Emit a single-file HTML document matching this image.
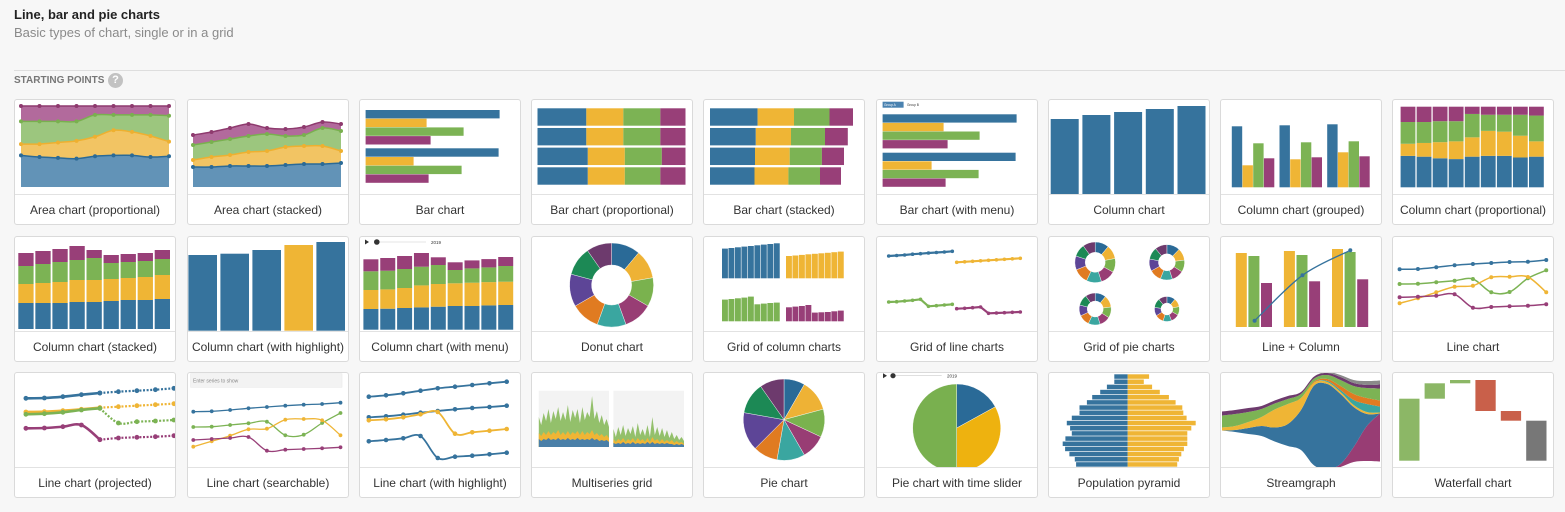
<!DOCTYPE html>
<html><head><meta charset="utf-8">
<style>
body{margin:0;width:1565px;height:512px;background:#f7f7f7;font-family:"Liberation Sans",sans-serif;position:relative;overflow:hidden}
.t{position:absolute;left:14px;top:7px;font-size:13px;font-weight:bold;color:#222}
.st{position:absolute;left:14px;top:25px;font-size:13px;color:#8a8a8a}
.hr{position:absolute;left:14px;right:0;top:70px;border-top:1px solid #dedede}
.sp{position:absolute;left:14px;top:75px;font-size:10px;font-weight:bold;color:#777}
.help{position:absolute;left:108px;top:73px;width:15px;height:15px;border-radius:50%;background:#c2c2c2;color:#fff;font-size:11px;font-weight:bold;text-align:center;line-height:15px}
.card{position:absolute;width:162px;height:126px;box-sizing:border-box;border:1px solid #dadada;border-radius:3px;background:#fff;overflow:hidden}
.card svg{position:absolute;left:-1px;top:-1px;width:162px;height:95px}
.lbl{position:absolute;left:0;right:0;top:94px;height:31px;border-top:1px solid #e2e2e2;text-align:center;line-height:30px;font-size:12px;color:#333;white-space:nowrap}
</style></head><body>
<div class="t">Line, bar and pie charts</div>
<div class="st">Basic types of chart, single or in a grid</div>
<div class="hr"></div>
<div class="sp">STARTING POINTS</div>
<div class="help">?</div>

<div class="card" style="left:14px;top:99px"><svg id="c1" viewBox="0 0 162 95"></svg><div class="lbl">Area chart (proportional)</div></div>
<div class="card" style="left:187px;top:99px"><svg id="c2" viewBox="0 0 162 95"></svg><div class="lbl">Area chart (stacked)</div></div>
<div class="card" style="left:359px;top:99px"><svg id="c3" viewBox="0 0 162 95"></svg><div class="lbl">Bar chart</div></div>
<div class="card" style="left:531px;top:99px"><svg id="c4" viewBox="0 0 162 95"></svg><div class="lbl">Bar chart (proportional)</div></div>
<div class="card" style="left:703px;top:99px"><svg id="c5" viewBox="0 0 162 95"></svg><div class="lbl">Bar chart (stacked)</div></div>
<div class="card" style="left:876px;top:99px"><svg id="c6" viewBox="0 0 162 95"></svg><div class="lbl">Bar chart (with menu)</div></div>
<div class="card" style="left:1048px;top:99px"><svg id="c7" viewBox="0 0 162 95"></svg><div class="lbl">Column chart</div></div>
<div class="card" style="left:1220px;top:99px"><svg id="c8" viewBox="0 0 162 95"></svg><div class="lbl">Column chart (grouped)</div></div>
<div class="card" style="left:1392px;top:99px"><svg id="c9" viewBox="0 0 162 95"></svg><div class="lbl">Column chart (proportional)</div></div>

<div class="card" style="left:14px;top:236px"><svg id="c10" viewBox="0 0 162 95"></svg><div class="lbl">Column chart (stacked)</div></div>
<div class="card" style="left:187px;top:236px"><svg id="c11" viewBox="0 0 162 95"></svg><div class="lbl">Column chart (with highlight)</div></div>
<div class="card" style="left:359px;top:236px"><svg id="c12" viewBox="0 0 162 95"></svg><div class="lbl">Column chart (with menu)</div></div>
<div class="card" style="left:531px;top:236px"><svg id="c13" viewBox="0 0 162 95"></svg><div class="lbl">Donut chart</div></div>
<div class="card" style="left:703px;top:236px"><svg id="c14" viewBox="0 0 162 95"></svg><div class="lbl">Grid of column charts</div></div>
<div class="card" style="left:876px;top:236px"><svg id="c15" viewBox="0 0 162 95"></svg><div class="lbl">Grid of line charts</div></div>
<div class="card" style="left:1048px;top:236px"><svg id="c16" viewBox="0 0 162 95"></svg><div class="lbl">Grid of pie charts</div></div>
<div class="card" style="left:1220px;top:236px"><svg id="c17" viewBox="0 0 162 95"></svg><div class="lbl">Line + Column</div></div>
<div class="card" style="left:1392px;top:236px"><svg id="c18" viewBox="0 0 162 95"></svg><div class="lbl">Line chart</div></div>

<div class="card" style="left:14px;top:372px"><svg id="c19" viewBox="0 0 162 95"></svg><div class="lbl">Line chart (projected)</div></div>
<div class="card" style="left:187px;top:372px"><svg id="c20" viewBox="0 0 162 95"><rect x="3.6" y="1.7" width="151.4" height="13.6" fill="#f3f3f3" stroke="#e6e6e6" stroke-width="0.5"/><text x="6" y="10.5" font-size="5" fill="#888" font-family="Liberation Sans, sans-serif">Enter series to show</text></svg><div class="lbl">Line chart (searchable)</div></div>
<div class="card" style="left:359px;top:372px"><svg id="c21" viewBox="0 0 162 95"></svg><div class="lbl">Line chart (with highlight)</div></div>
<div class="card" style="left:531px;top:372px"><svg id="c22" viewBox="0 0 162 95"></svg><div class="lbl">Multiseries grid</div></div>
<div class="card" style="left:703px;top:372px"><svg id="c23" viewBox="0 0 162 95"></svg><div class="lbl">Pie chart</div></div>
<div class="card" style="left:876px;top:372px"><svg id="c24" viewBox="0 0 162 95"></svg><div class="lbl">Pie chart with time slider</div></div>
<div class="card" style="left:1048px;top:372px"><svg id="c25" viewBox="0 0 162 95"></svg><div class="lbl">Population pyramid</div></div>
<div class="card" style="left:1220px;top:372px"><svg id="c26" viewBox="0 0 162 95"></svg><div class="lbl">Streamgraph</div></div>
<div class="card" style="left:1392px;top:372px"><svg id="c27" viewBox="0 0 162 95"></svg><div class="lbl">Waterfall chart</div></div>

<script>
const PAL=['#2a6a97','#eeb235','#7ab24e','#983d74','#3aa6a0','#e07b21','#5d4597','#1c8955','#6d3a6d'];
const C4=['#36739d','#efb535','#7cb354','#983f78'];
const AFILL=['#6293b7','#f2c463','#9cc67e','#b26a9c'];
const ALINE=['#2b6a96','#eeb030','#79b04f','#8e3a6e'];

const areaPropSeries=[[39,37,36,35,38,39,39,37,38],[14,16,19,22,24,31,29,26,18],[28,28,26,24,27,19,21,26,32],[19,19,19,19,11,11,11,11,12]];
const areaStackSeries=[[20,20,21,21,21,22,23,23,24],[7,10,11,14,15,18,18,18,12],[15,15,16,16,17,11,11,18,20],[10,10,11,12,6,7,8,6,7]];
const barGroups=[[134,61,98,65],[133,48,96,63]];
const barPropRows=[[33,25,25,17],[33,25,25,17],[34,25,25,16],[34,25,24,17]];
const barStackRows=[[47.6,36.4,35.5,23.5],[45.8,35.2,34,22.8],[45,34.7,32.2,22.1],[44.5,33.9,31.6,21]];
const barMenuGroups=[[134,61,97,65],[133,49,96,63]];
const colValues=[75,79,82,85,88];
const groupedValues=[[61,22,44,29],[62,28,45,30],[63,35,46,31]];
const colPropSeries=[[39,38,36,35,38,39,39,37,38],[15,17,20,22,24,31,30,27,19],[27,26,26,25,29,20,21,26,32],[19,19,18,18,9,10,10,10,11]];
const colStackSeries=[[26,26,26,27,27,28,29,29,30],[19,20,21,22,22,22,22,23,24],[18,19,20,20,22,16,16,16,16],[13,13,13,14,8,8,8,8,9]];
const highlightValues=[75.7,77,80.7,85.7,88.7];
const highlightIndex=3;
const colMenuSeries=[[20.7,21,21.7,22.3,23,23.7,23.7,24.3,24.7],[19,19.3,20,22,22.7,22.7,23.3,23.3,23.3],[18.7,18.7,19,18.7,19,13.3,14.3,14.7,15.7],[12,12.7,13,13.7,7.7,7.7,8,8.3,9]];
const donutValues=[40,40,40,40,40,40,45,40,35];
const gridColBlue=[29.7,30.3,31,31.7,32.3,33,33.7,34.3,35];
const gridColYellow=[22.3,22.8,23.4,24,24.5,25,25.5,26.1,26.7];
const gridColGreen=[21.7,22.3,23,23.7,24.7,17,17.7,18.3,18.7];
const gridColPurple=[14,14.7,15.3,16.3,8.7,9,9.3,10,10.7];
const gridLineBlue=[14,14.5,15,15.8,16.3,17,17.5,18,18.7];
const gridLineYellow=[7.7,8.2,8.7,9.2,9.7,10.2,10.7,11.2,11.7];
const gridLineGreen=[14,14.3,15,15.7,16.7,9.7,10.3,11,11.7];
const gridLinePurple=[7.3,7.7,8.3,9,2.7,3,3.3,3.7,4];
const gridPieValues=[[11,11,11,12,12,12,11,10,10],[12,11,11,11,11,11,11,11,11],[11,12,11,11,12,11,11,11,10],[11,11,11,11,11,11,11,12,11]];
const lcYellow=[74,76,78];
const lcGreen=[71,72,75];
const lcPurple=[44,45.7,47.7];
const lcLine=[6.3,51.7,76.7];
const lineBlue=[46.7,47,48.7,50.7,52,53,54,54.3,56];
const lineGreen=[32,32.3,33.7,35.3,37,23.7,24,37.7,45.7];
const lineOrange=[12.7,17.7,23.7,29.3,30.3,38.7,39.3,39,23.7];
const linePurple=[18.7,19.3,20.3,21.7,8.3,9,9.7,10.3,11.7];
const projBlue=[61.7,62,63.3,65.3,67,68.3,69.3,70.3,71.7];
const projYellow=[48,48.3,49.3,50.7,52.3,53.3,54.3,55.3,56.3];
const projGreen=[45.7,46.3,47.7,50,51.7,37,38.3,39,40];
const projPurple=[31.7,32,33.3,35,20.3,22,22.7,23.3,24.3];
const projSplit=4;
const searchBlue=[48.3,48.7,50,51.7,53,54.3,55.3,56,57.3];
const searchGreen=[33,33.3,35,36.7,38.3,24.7,25.3,37,47];
const searchOrange=[13.3,18.7,24.3,30.7,31.3,40.3,41,39.7,24.7];
const searchPurple=[20,21,22,23,9.3,10.3,11,11.7,12.7];
const hlBlue1=[63.3,64.7,66.7,69.3,71.7,73.3,75,76.7,78.3];
const hlBlue2=[42.7,43.7,45.3,47.3,49,50.7,52,53,54.3];
const hlYellow=[39.7,40.7,42.7,45.7,48,26.3,27.7,29.3,31];
const hlBlue3=[18.7,20,21.7,24,2,3.3,4.3,5.7,7.3];
const msGreen1=[30,22,34,26,38,24,36,28,40,26,35,27,42,25,37,29,38,24,40,27,35,30,51,28,36,24,32,22,28,20];
const msYellow1=[14,11,15,12,16,12,15,13,17,12,15,12,16,12,15,13,16,12,16,12,15,13,17,12,14,11,13,10,12,9];
const msBlue1=[8,6,8,7,9,7,8,7,9,7,8,7,9,7,8,7,9,7,8,7,8,7,9,7,8,6,7,6,7,5];
const msGreen2=[18,10,20,12,22,11,19,13,21,10,24,12,18,11,22,10,30,12,20,11,19,10,17,9,15,8,12,7,10,6];
const msYellow2=[8,5,8,6,9,5,8,6,9,5,9,6,8,5,9,5,10,6,8,5,8,5,7,5,7,4,6,4,5,3];
const msBlue2=[4,3,4,3,5,3,4,3,5,3,4,3,4,3,5,3,5,3,4,3,4,3,4,3,3,2,3,2,3,2];
const pieValues=[30,45,40,35,40,35,55,45,35];
const sliderPieValues=[17,33,50];
const pyrLeft=[13.4,13.4,20.8,27.5,35.5,40.8,48.2,48.2,55.9,60.9,57.6,55.9,62.3,65,62.6,58.3,52.9,51.6];
const pyrRight=[21.4,16.1,24.4,32.1,41.2,47.9,54.6,55.6,58.9,68,63.6,59.6,59.6,59.6,56.2,53.6,51.2,49.5];
const streamMagenta=[0,0,0,0,0,0,0,0,1,3,15,35,48];
const streamBlue=[0,2,6,10,14,22,40,80,85,70,40,12,0];
const streamYellow=[3,4,6,9,18,20,12,3,2,2,2,2,1];
const streamTeal=[0,0,0,0,0,0,0,0,1,2,5,8,6];
const streamOrange=[0,0,0,0,0,0,0,1,2,4,6,6,6];
const streamGreen=[12,12,10,8,6,5,4,3,4,6,8,10,12];
const streamPurple=[4,4,4,3,3,3,2,2,2,3,3,3,4];
const streamGray=[0,0,0,0,0,0,0,0,1,2,3,4,4];
const wfSteps=[62,15.4,3.3,-31,-9.7];

const NS='http://www.w3.org/2000/svg';
function S(id){return document.getElementById(id);}
function mk(p,tag,a,name){
  const el=document.createElementNS(NS,tag);
  for(const k in a) el.setAttribute(k,a[k]);
  
  
  p.appendChild(el);return el;
}
function rect(p,x,y,w,h,fill,name){return mk(p,'rect',{x:x,y:y,width:Math.max(0,w),height:Math.max(0,h),fill:fill},name);}
function f(n){return n.toFixed(2);}
function straight(pts){return 'M'+pts.map(q=>f(q[0])+','+f(q[1])).join('L');}
function smooth(pts){
  let d='M'+f(pts[0][0])+','+f(pts[0][1]);
  for(let i=0;i<pts.length-1;i++){
    const p0=pts[i-1]||pts[i],p1=pts[i],p2=pts[i+1],p3=pts[i+2]||p2;
    const c1=[p1[0]+(p2[0]-p0[0])/6,p1[1]+(p2[1]-p0[1])/6];
    const c2=[p2[0]-(p3[0]-p1[0])/6,p2[1]-(p3[1]-p1[1])/6];
    d+='C'+f(c1[0])+','+f(c1[1])+' '+f(c2[0])+','+f(c2[1])+' '+f(p2[0])+','+f(p2[1]);
  }
  return d;
}
function arcPath(cx,cy,r0,r1,a0,a1){
  const pt=(r,a)=>[cx+r*Math.sin(a),cy-r*Math.cos(a)];
  const large=(a1-a0)>Math.PI?1:0;
  const A=pt(r1,a0),B=pt(r1,a1);
  let d='M'+f(A[0])+','+f(A[1])+'A'+r1+','+r1+' 0 '+large+' 1 '+f(B[0])+','+f(B[1]);
  if(r0>0){const C=pt(r0,a1),D=pt(r0,a0);d+='L'+f(C[0])+','+f(C[1])+'A'+r0+','+r0+' 0 '+large+' 0 '+f(D[0])+','+f(D[1]);}
  else d+='L'+cx+','+cy;
  return d+'Z';
}
function pie(p,cx,cy,r0,r1,vals,cols,name){
  const tot=vals.reduce((a,b)=>a+b,0);let a=0;
  vals.forEach((v,i)=>{const a1=a+v/tot*2*Math.PI;
    mk(p,'path',{d:arcPath(cx,cy,r0,r1,a,a1),fill:cols[i%cols.length],stroke:'#fff','stroke-width':0.4},name);a=a1;});
}
function series(p,vals,xf,yf,color,w,r,useSmooth,name,dash){
  const pts=vals.map((v,i)=>[xf(i),yf(v)]);
  const a={d:useSmooth?smooth(pts):straight(pts),fill:'none',stroke:color,'stroke-width':w,'stroke-linejoin':'round'};
  if(dash)a['stroke-dasharray']=dash;
  mk(p,'path',a,name+'-line');
  if(r>0)pts.forEach(q=>mk(p,'circle',{cx:q[0],cy:q[1],r:r,fill:color},name+'-point'));
}
function stackCum(ser){const n=ser[0].length;const out=[];let base=new Array(n).fill(0);
  ser.forEach(s=>{const top=base.map((b,i)=>b+s[i]);out.push([base,top]);base=top;});return out;}

(function(){const s=S('c1');const n=9;const xf=i=>7+i*148/(n-1);
 const tot=areaPropSeries[0].map((_,i)=>areaPropSeries.reduce((a,r)=>a+r[i],0));
 const yf=v=>88-v*81;
 const norm=areaPropSeries.map(r=>r.map((v,i)=>v/tot[i]));
 const st=stackCum(norm);
 st.forEach((l,k)=>{const up=l[1].map((v,i)=>[xf(i),yf(v)]);const lo=l[0].map((v,i)=>[xf(i),yf(v)]).reverse();
   mk(s,'path',{d:smooth(up)+'L'+straight(lo).slice(1)+'Z',fill:AFILL[k]},'area-layer');});
 st.forEach((l,k)=>series(s,l[1],xf,yf,ALINE[k],1.5,2,true,'area-series'));
})();
(function(){const s=S('c2');const xf=i=>6+i*148/8;const yf=v=>88-v;
 const st=stackCum(areaStackSeries);
 st.forEach((l,k)=>{const up=l[1].map((v,i)=>[xf(i),yf(v)]);const lo=l[0].map((v,i)=>[xf(i),yf(v)]).reverse();
   mk(s,'path',{d:smooth(up)+'L'+straight(lo).slice(1)+'Z',fill:AFILL[k]},'area-layer');});
 st.forEach((l,k)=>series(s,l[1],xf,yf,ALINE[k],1.5,2,true,'area-series'));
})();
(function(){const s=S('c3');barGroups.forEach((g,gi)=>g.forEach((v,k)=>rect(s,6.6,11+gi*38.3+k*8.7,v,8.4,C4[k],'bar')));})();
(function(){const s=S('c4');barPropRows.forEach((r,ri)=>{const t=r.reduce((a,b)=>a+b,0);let x=6.5;
 r.forEach((v,k)=>{const w=v/t*148;rect(s,x,9.3+ri*19.67,w,17.4,C4[k],'bar-segment');x+=w;});});})();
(function(){const s=S('c5');barStackRows.forEach((r,ri)=>{let x=7;r.forEach((v,k)=>{rect(s,x,9.3+ri*19.67,v,17.4,C4[k],'bar-segment');x+=v;});});})();
(function(){const s=S('c6');
 rect(s,6.6,2.7,21,6,'#4a82b0','menu-button-a');
 const t1=mk(s,'text',{x:8,y:7,'font-size':3.2,fill:'#fff','font-family':'Liberation Sans, sans-serif'},'menu-label');t1.textContent='Group A';
 const t2=mk(s,'text',{x:31,y:7,'font-size':3.2,fill:'#333','font-family':'Liberation Sans, sans-serif'},'menu-label');t2.textContent='Group B';
 barMenuGroups.forEach((g,gi)=>g.forEach((v,k)=>rect(s,6.6,15.3+gi*38.4+k*8.6,v,8.3,C4[k],'bar')));})();
(function(){const s=S('c7');colValues.forEach((v,i)=>rect(s,2.7+i*31.7,95-v,28,v,C4[0],'column'));})();
(function(){const s=S('c8');groupedValues.forEach((g,gi)=>g.forEach((v,k)=>rect(s,11.8+gi*47.7+k*10.7,88.3-v,10.4,v,C4[k],'column')));})();
(function(){const s=S('c9');const n=9;
 for(let i=0;i<n;i++){const t=colPropSeries.reduce((a,r)=>a+r[i],0);let y=88.3;
  colPropSeries.forEach((r,k)=>{const h=r[i]/t*80.6;rect(s,8.6+i*16.05,y-h,14.8,h,C4[k],'column-segment');y-=h;});}})();
(function(){const s=S('c10');for(let i=0;i<9;i++){let y=93;colStackSeries.forEach((r,k)=>{rect(s,4.3+i*17.05,y-r[i],15.3,r[i],C4[k],'column-segment');y-=r[i];});}})();
(function(){const s=S('c11');highlightValues.forEach((v,i)=>rect(s,1.4+i*32,94.7-v,28.6,v,i===highlightIndex?C4[1]:C4[0],'column'));})();
(function(){const s=S('c12');
 mk(s,'path',{d:'M6,3.5L10,6L6,8.5Z',fill:'#333'},'play-button');
 mk(s,'line',{x1:17.8,y1:6,x2:67,y2:6,stroke:'#ccc','stroke-width':0.6},'slider-track');
 mk(s,'circle',{cx:17.8,cy:6,r:2.8,fill:'#333'},'slider-handle');
 const t=mk(s,'text',{x:72,y:7.8,'font-size':4.5,fill:'#333','font-family':'Liberation Sans, sans-serif'},'slider-year');t.textContent='2019';
 for(let i=0;i<9;i++){let y=93.7;colMenuSeries.forEach((r,k)=>{rect(s,4.4+i*16.85,y-r[i],15,r[i],C4[k],'column-segment');y-=r[i];});}})();
(function(){pie(S('c13'),80.6,49,20,42,donutValues,PAL,'donut-slice');})();
(function(){const s=S('c14');const panels=[[gridColBlue,19,42.3,C4[0]],[gridColYellow,83,42.3,C4[1]],[gridColGreen,19,85.3,C4[2]],[gridColPurple,83,85.3,C4[3]]];
 panels.forEach(p=>p[0].forEach((v,i)=>rect(s,p[1]+i*6.48,p[2]-v,5.9,v,p[3],'column')));})();
(function(){const s=S('c15');const panels=[[gridLineBlue,12.7,34,C4[0]],[gridLineYellow,80.7,34,C4[1]],[gridLineGreen,12.7,80,C4[2]],[gridLinePurple,80.7,80,C4[3]]];
 panels.forEach(p=>series(s,p[0],i=>p[1]+i*7.95,v=>p[2]-v,p[3],2.2,1.8,false,'panel-series'));})();
(function(){const s=S('c16');const g=[[47.2,26.3,10,20.3],[118.9,26.3,8.5,17.7],[47.2,73,8,16],[118.9,73,6,12.5]];
 g.forEach((q,i)=>pie(s,q[0],q[1],q[2],q[3],gridPieValues[i],PAL,'pie-slice'));})();
(function(){const s=S('c17');[lcYellow,lcGreen,lcPurple].forEach((arr,k)=>arr.forEach((v,g)=>rect(s,15.8+g*48.1+k*12.6,91-v,11,v,C4[k+1],'column')));
 series(s,lcLine,g=>34.6+g*47.85,v=>91-v,C4[0],1.3,2,true,'line');})();
(function(){const s=S('c18');const xf=i=>7.6+i*18.33,yf=v=>80-v;
 [[lineBlue,C4[0]],[lineGreen,C4[2]],[lineOrange,C4[1]],[linePurple,C4[3]]].forEach(q=>series(s,q[0],xf,yf,q[1],1.5,2,true,'line-series'));})();
(function(){const s=S('c19');const xf=i=>11.9+i*18.5,yf=v=>88-v;
 [[projBlue,C4[0]],[projYellow,C4[1]],[projGreen,C4[2]],[projPurple,C4[3]]].forEach(q=>{
  const solid=q[0].slice(0,projSplit+1);const proj=q[0].slice(projSplit);
  series(s,solid,xf,yf,q[1],2.6,2.4,true,'actual-series');
  series(s,proj,i=>xf(i+projSplit),yf,q[1],2.2,2.4,true,'projected-series','2 1.6');});})();
(function(){const s=S('c20');const xf=i=>6.3+i*18.4,yf=v=>88-v;
 [[searchBlue,C4[0]],[searchGreen,C4[2]],[searchOrange,C4[1]],[searchPurple,C4[3]]].forEach(q=>series(s,q[0],xf,yf,q[1],1.3,1.9,true,'line-series'));})();
(function(){const s=S('c21');const xf=i=>9.8+i*17.24,yf=v=>88-v;
 [[hlBlue1,C4[0]],[hlBlue2,C4[0]],[hlYellow,C4[1]],[hlBlue3,C4[0]]].forEach(q=>series(s,q[0],xf,yf,q[1],1.8,2.3,true,'line-series'));})();
(function(){const s=S('c22');const panels=[[7.8,78,msGreen1,msYellow1,msBlue1],[82.4,153,msGreen2,msYellow2,msBlue2]];
 panels.forEach(p=>{rect(s,p[0],18.7,p[1]-p[0],56.3,'#f3f3f3','panel-background');
  const n=p[2].length;const xf=i=>p[0]+i*(p[1]-p[0])/(n-1);
  [[p[2],'#93c06b'],[p[3],'#efb535'],[p[4],'#4a7fa8']].forEach(l=>{
   const pts=l[0].map((v,i)=>[xf(i),75-v]);
   mk(s,'path',{d:straight(pts)+'L'+f(p[1])+',75L'+f(p[0])+',75Z',fill:l[1]},'area');});});})();
(function(){pie(S('c23'),81,47.7,0,40.7,pieValues,PAL,'pie-slice');})();
(function(){const s=S('c24');
 pie(s,80.7,56,0,44,sliderPieValues,['#2a6a97','#eeb20f','#79b04f'],'pie-slice');
 mk(s,'path',{d:'M7,1.2L11,3.7L7,6.2Z',fill:'#333'},'play-button');
 mk(s,'line',{x1:17,y1:3.7,x2:65.7,y2:3.7,stroke:'#ccc','stroke-width':0.6},'slider-track');
 mk(s,'circle',{cx:17,cy:3.7,r:2.6,fill:'#333'},'slider-handle');
 const t=mk(s,'text',{x:71,y:5.4,'font-size':4.5,fill:'#333','font-family':'Liberation Sans, sans-serif'},'slider-year');t.textContent='2019';})();
(function(){const s=S('c25');const cx=79.7;
 pyrLeft.forEach((v,i)=>rect(s,cx-v,2.3+i*5.17,v,4.5,C4[0],'bar-left'));
 pyrRight.forEach((v,i)=>rect(s,cx,2.3+i*5.17,v,4.5,C4[1],'bar-right'));})();
(function(){const s=S('c26');const layers=[[streamMagenta,'#983d74'],[streamBlue,'#36739d'],[streamYellow,'#efb535'],[streamTeal,'#3aa6a0'],[streamOrange,'#e07b21'],[streamGreen,'#7cb354'],[streamPurple,'#6d3a6d'],[streamGray,'#8a8a8a']];
 const n=streamBlue.length;const xf=i=>2+i*158/(n-1);
 const tot=[];for(let i=0;i<n;i++)tot.push(layers.reduce((a,l)=>a+l[0][i],0));
 let base=tot.map(t=>49+t/2);
 layers.forEach(l=>{const top=base.map((b,i)=>b-l[0][i]);
  const up=top.map((v,i)=>[xf(i),v]);const lo=base.map((v,i)=>[xf(i),v]).reverse();
  mk(s,'path',{d:smooth(up)+'L'+smooth(lo).slice(1)+'Z',fill:l[1]},'stream-layer');base=top;});})();
(function(){const s=S('c27');const base=88.7;let run=0;
 wfSteps.forEach((v,i)=>{const a=run,b=run+v;rect(s,7.2+i*25.4,base-Math.max(a,b),20.3,Math.abs(v),v>=0?'#8cb766':'#c9604a','waterfall-bar');run=b;});
 rect(s,7.2+wfSteps.length*25.4,base-run,20.3,run,'#777','waterfall-total');})();
</script>
</body></html>
